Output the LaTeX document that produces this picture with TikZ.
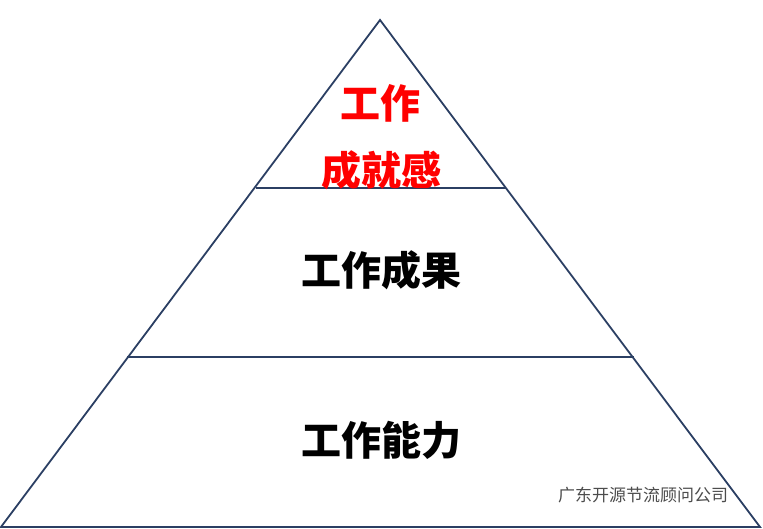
\documentclass[tikz,border=0pt]{standalone}
\usepackage{fontspec}
\newfontfamily\cjk{Noto Sans CJK SC}
\definecolor{edge}{HTML}{2B3F63}
\begin{document}
\begin{tikzpicture}[x=1pt,y=-1pt,
  big/.style={font=\cjk\bfseries\fontsize{40}{44}\selectfont,inner sep=0pt},
  lv/.style={draw=edge,line width=1.8pt}]
\useasboundingbox (0,0) rectangle (763,529);
\coordinate (apex) at (380,20);
\coordinate (bl) at (1,527);
\coordinate (br) at (760,527);
\draw[lv,line join=miter] (apex) -- (bl) -- (br) -- cycle;
\coordinate (l1) at (256,188);
\coordinate (r1) at (506,188);
\coordinate (l2) at (127,357);
\coordinate (r2) at (634,357);
\draw[lv] (l1) -- (r1);
\draw[lv] (l2) -- (r2);
\node[big,text=red] (t1) at (380,103) {工作};
\node[big,text=red] (t2) at (381,170) {成就感};
\node[big] (t3) at (381,270) {工作成果};
\node[big] (t4) at (381,440) {工作能力};
\node[font=\cjk\fontsize{17}{19}\selectfont,text=black!70,inner sep=0pt] (wm) at (643,495) {广东开源节流顾问公司};
\end{tikzpicture}
\end{document}
